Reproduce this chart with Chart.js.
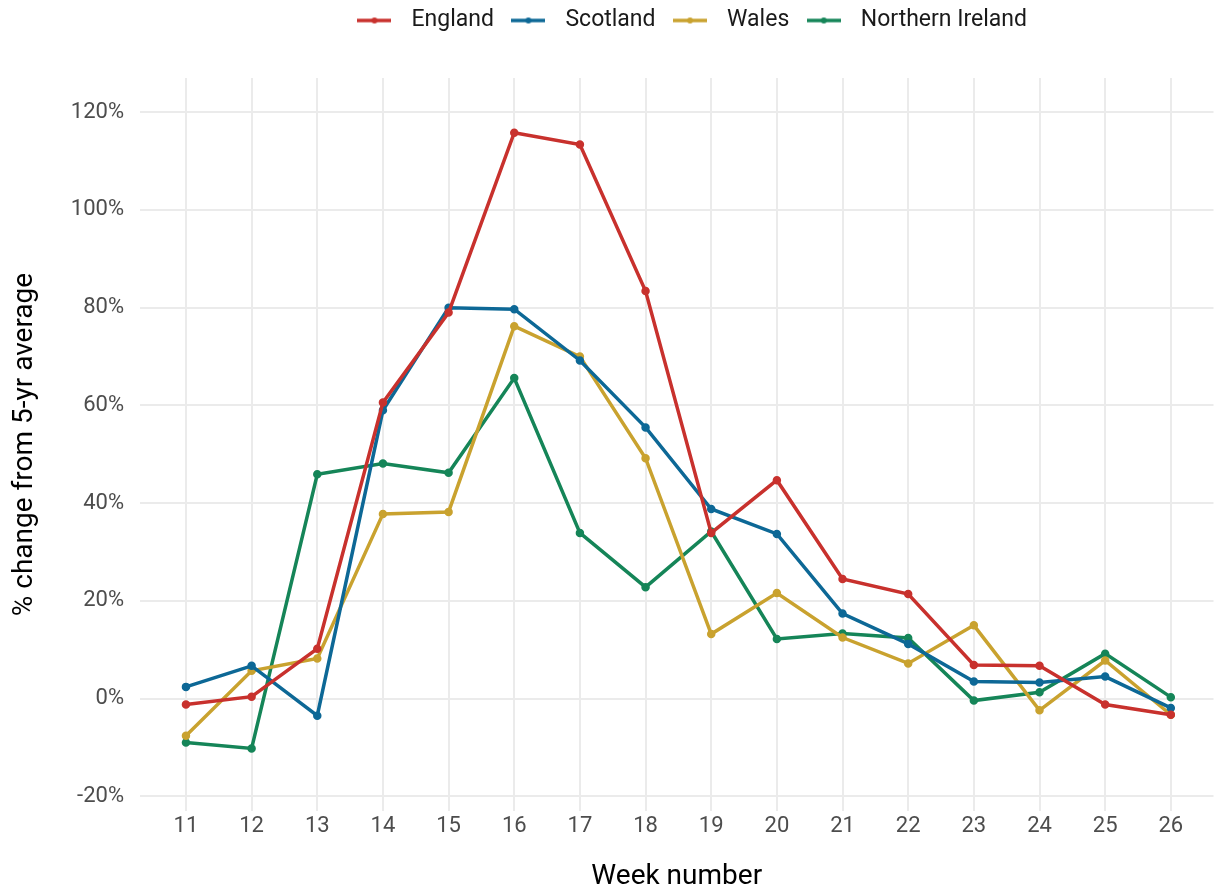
<!DOCTYPE html>
<html>
<head>
<meta charset="utf-8">
<script src="https://cdn.jsdelivr.net/npm/chart.js@4"></script>
<style>
    body { margin: 0; background: #ffffff; }
    #wrap { width: 1220px; height: 894px; position: relative; }
</style>
</head>
<body>
<div id="wrap"><canvas id="excessChart"></canvas></div>
<script>
// weekly % change in deaths from the 5-year average
const weeks = [11, 12, 13, 14, 15, 16, 17, 18, 19, 20, 21, 22, 23, 24, 25, 26];
const england = [-1.2, 0.4, 10.2, 60.6, 79.0, 115.8, 113.4, 83.4, 33.9, 44.7, 24.5, 21.4, 6.9, 6.7, -1.2, -3.3];
const scotland = [2.4, 6.7, -3.5, 59.0, 80.0, 79.7, 69.2, 55.5, 38.8, 33.7, 17.4, 11.2, 3.5, 3.3, 4.5, -1.9];
const wales = [-7.6, 5.7, 8.2, 37.8, 38.2, 76.2, 70.0, 49.2, 13.2, 21.6, 12.5, 7.2, 15.0, -2.4, 7.8, -3.3];
const northernIreland = [-9.0, -10.2, 45.9, 48.1, 46.2, 65.6, 33.9, 22.8, 34.2, 12.2, 13.3, 12.4, -0.4, 1.3, 9.2, 0.3];
const yTicks = [-20, 0, 20, 40, 60, 80, 100, 120];

const seriesNames = ['England', 'Scotland', 'Wales', 'Northern Ireland'];
const seriesValues = [england, scotland, wales, northernIreland];
const seriesColors = ['#c8312d', '#0d6896', '#c9a22f', '#158558'];

// legend key: short line with a dot in the middle
function legendIcon(color) {
    const c = document.createElement('canvas');
    c.width = 34;
    c.height = 8;
    const ctx = c.getContext('2d');
    ctx.strokeStyle = color;
    ctx.lineWidth = 3.5;
    ctx.beginPath();
    ctx.moveTo(0, 4);
    ctx.lineTo(34, 4);
    ctx.stroke();
    ctx.fillStyle = color;
    ctx.beginPath();
    ctx.arc(17, 4, 3, 0, Math.PI * 2);
    ctx.fill();
    return c;
}

const datasets = seriesNames.map((name, i) => ({
    label: name,
    data: weeks.map((w, j) => ({ x: w, y: seriesValues[i][j] })),
    borderColor: seriesColors[i],
    backgroundColor: seriesColors[i],
    borderWidth: 3.5,
    pointRadius: 2.5,
    pointHoverRadius: 3,
    pointStyle: 'circle',
    legendIcon: legendIcon(seriesColors[i]),
    tension: 0
}));

// extra room under the legend, and centre it over the plot panel
const legendSpacer = {
    id: 'legendSpacer',
    beforeInit(chart) {
        const fit = chart.legend.fit;
        chart.legend.fit = function () {
            fit.bind(chart.legend)();
            this.height += 36;
        };
    },
    afterLayout(chart) {
        chart.legend.left += 78;
        chart.legend.right += 78;
    }
};

Chart.defaults.font.family = 'Roboto, "Noto Sans", sans-serif';

const ctx = document.getElementById('excessChart').getContext('2d');
new Chart(ctx, {
    type: 'line',
    data: { datasets: datasets },
    plugins: [legendSpacer],
    options: {
        responsive: true,
        maintainAspectRatio: false,
        animation: false,
        layout: { padding: 0 },
        plugins: {
            tooltip: { enabled: false },
            legend: {
                position: 'top',
                align: 'center',
                labels: {
                    color: '#1a1a1a',
                    font: { size: 23 },
                    usePointStyle: true,
                    pointStyleWidth: 51,
                    boxHeight: 8,
                    padding: 9,
                    generateLabels: chart => chart.data.datasets.map((d, i) => ({
                        text: d.label,
                        pointStyle: d.legendIcon,
                        fillStyle: d.borderColor,
                        strokeStyle: d.borderColor,
                        lineWidth: 0,
                        fontColor: '#1a1a1a',
                        datasetIndex: i,
                        hidden: false
                    }))
                }
            }
        },
        scales: {
            x: {
                type: 'linear',
                min: 10.3,
                max: 26.65,
                afterBuildTicks: axis => { axis.ticks = weeks.map(v => ({ value: v })); },
                afterFit: axis => { axis.height = 83; },
                grid: { color: '#ebebeb', lineWidth: 2, drawTicks: false },
                border: { display: false },
                ticks: { color: '#4d4d4d', font: { size: 22 }, padding: 2, autoSkip: false, maxRotation: 0 },
                title: { display: true, text: 'Week number', color: '#000000', font: { size: 28 }, padding: { top: 4, bottom: 0 } }
            },
            y: {
                min: -23,
                max: 127,
                afterBuildTicks: axis => { axis.ticks = yTicks.map(v => ({ value: v })); },
                afterFit: axis => { axis.width = 140; },
                grid: { color: '#ebebeb', lineWidth: 2, drawTicks: false },
                border: { display: false },
                ticks: { color: '#4d4d4d', font: { size: 22 }, padding: 16, callback: v => v + '%' },
                title: { display: true, text: '% change from 5-yr average', color: '#000000', font: { size: 28 }, padding: { top: 8, bottom: 0 } }
            }
        }
    }
});
</script>
</body>
</html>
